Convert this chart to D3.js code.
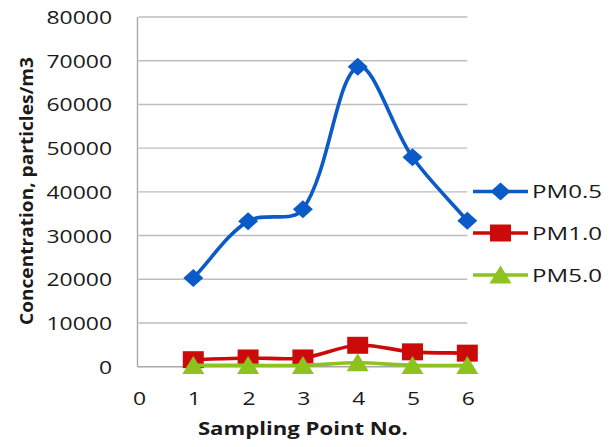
<!DOCTYPE html>
<html>
<head>
<meta charset="utf-8">
<script src="https://cdn.jsdelivr.net/npm/d3@7"></script>
<style>
  html, body { margin: 0; padding: 0; background: #fff; }
  svg { display: block; }
</style>
</head>
<body>
<svg id="chart" width="615" height="447"></svg>
<script>
const samplingPoints = [1, 2, 3, 4, 5, 6];
const pm05 = [20300, 33300, 36000, 68600, 47900, 33400];
const pm10 = [1600, 2000, 2000, 4900, 3400, 3100];
const pm50 = [300, 300, 300, 900, 300, 300];
const yTicks = [0, 10000, 20000, 30000, 40000, 50000, 60000, 70000, 80000];
const xTicks = [0, 1, 2, 3, 4, 5, 6];
const seriesNames = ["PM0.5", "PM1.0", "PM5.0"];
const yTitle = "Concentration, particles/m3";
const xTitle = "Sampling Point No.";

const colors = ["#0A5AC8", "#CC0A0A", "#8DC21F"];
const shapes = ["diamond", "square", "triangle"];
const seriesData = [pm05, pm10, pm50];

const svg = d3.select("#chart");
const x = d3.scaleLinear().domain([0, 6]).range([138.5, 467.3]);
const y = d3.scaleLinear().domain([0, 80000]).range([366.7, 17]);

const font = "'Open Sans', 'DejaVu Sans', sans-serif";
const digitW = 13.1;

// Spreadsheet-style smoothing curve (Bezier, tangents scaled by segment length)
function SmoothCurve(context) { this._context = context; }
SmoothCurve.prototype = {
  areaStart() {}, areaEnd() {},
  lineStart() { this._pts = []; },
  point(px, py) { this._pts.push([+px, +py]); },
  lineEnd() {
    const p = this._pts, c = this._context, n = p.length;
    if (!n) return;
    c.moveTo(p[0][0], p[0][1]);
    const dist = (a, b) => Math.hypot(b[0] - a[0], b[1] - a[1]);
    for (let i = 0; i < n - 1; i++) {
      const p0 = p[Math.max(i - 1, 0)], p1 = p[i], p2 = p[i + 1], p3 = p[Math.min(i + 2, n - 1)];
      const d01 = dist(p0, p1), d12 = dist(p1, p2), d23 = dist(p2, p3);
      const s = 1 / 3;
      const f1 = (d01 + d12) > 0 ? d12 / (d01 + d12) * s : 0;
      const f2 = (d12 + d23) > 0 ? d12 / (d12 + d23) * s : 0;
      const c1 = [p1[0] + (p2[0] - p0[0]) * f1, p1[1] + (p2[1] - p0[1]) * f1];
      const c2 = [p2[0] - (p3[0] - p1[0]) * f2, p2[1] - (p3[1] - p1[1]) * f2];
      c.bezierCurveTo(c1[0], c1[1], c2[0], c2[1], p2[0], p2[1]);
    }
  }
};
const curveSmooth = ctx => new SmoothCurve(ctx);

// gridlines
svg.append("g").selectAll("line")
  .data(yTicks.filter(d => d > 0))
  .join("line")
  .attr("x1", x(0)).attr("x2", x(6))
  .attr("y1", d => y(d)).attr("y2", d => y(d))
  .attr("stroke", "#BDBDBD").attr("stroke-width", 1.4);

// axes lines
svg.append("line").attr("x1", x(0) - 1).attr("x2", x(0) - 1)
  .attr("y1", y(80000)).attr("y2", y(0))
  .attr("stroke", "#A8A8A8").attr("stroke-width", 1.4);
svg.append("line").attr("x1", x(0) - 1).attr("x2", x(6))
  .attr("y1", y(0)).attr("y2", y(0))
  .attr("stroke", "#A8A8A8").attr("stroke-width", 1.4);

// y tick labels
svg.append("g").selectAll("text")
  .data(yTicks)
  .join("text")
  .attr("x", 112).attr("y", d => y(d) + 7)
  .attr("text-anchor", "end")
  .attr("font-family", font).attr("font-size", 19)
  .attr("fill", "#1a1a1a")
  .attr("textLength", d => String(d).length * digitW)
  .attr("lengthAdjust", "spacingAndGlyphs")
  .text(d => d);

// x tick labels
svg.append("g").selectAll("text")
  .data(xTicks)
  .join("text")
  .attr("x", d => x(d) + 1).attr("y", 405)
  .attr("text-anchor", "middle")
  .attr("font-family", font).attr("font-size", 19)
  .attr("fill", "#1a1a1a")
  .attr("textLength", digitW)
  .attr("lengthAdjust", "spacingAndGlyphs")
  .text(d => d);

// axis titles
svg.append("text")
  .attr("x", (x(0) + x(6)) / 2).attr("y", 435)
  .attr("text-anchor", "middle")
  .attr("font-family", font).attr("font-size", 17.5).attr("font-weight", "bold")
  .attr("fill", "#1a1a1a")
  .attr("textLength", 210).attr("lengthAdjust", "spacingAndGlyphs")
  .text(xTitle);

svg.append("text")
  .attr("transform", "translate(33,191) rotate(-90)")
  .attr("text-anchor", "middle")
  .attr("font-family", font).attr("font-size", 17.5).attr("font-weight", "bold")
  .attr("fill", "#1a1a1a")
  .attr("textLength", 268).attr("lengthAdjust", "spacingAndGlyphs")
  .text(yTitle);

function markerPath(shape) {
  if (shape === "diamond") return "M0,-9 L10,0 L0,9 L-10,0 Z";
  if (shape === "square") return "M-10.5,-8.5 L10.5,-8.5 L10.5,8.5 L-10.5,8.5 Z";
  return "M0,-9.5 L11,8.5 L-11,8.5 Z";
}

const line = d3.line()
  .x((d, i) => x(samplingPoints[i]))
  .y(d => y(d))
  .curve(curveSmooth);

seriesData.forEach((vals, si) => {
  const g = svg.append("g");
  g.append("path")
    .attr("d", line(vals))
    .attr("fill", "none")
    .attr("stroke", colors[si])
    .attr("stroke-width", 3.6)
    .attr("stroke-linejoin", "round");
  g.selectAll("path.m")
    .data(vals)
    .join("path")
    .attr("class", "m")
    .attr("transform", (d, i) => `translate(${x(samplingPoints[i])},${y(d)})`)
    .attr("d", markerPath(shapes[si]))
    .attr("fill", colors[si]);
});

// legend
const legendY = [191.5, 233, 275];
seriesNames.forEach((name, si) => {
  const g = svg.append("g").attr("transform", `translate(0,${legendY[si]})`);
  g.append("line").attr("x1", 473).attr("x2", 528).attr("y1", 0).attr("y2", 0)
    .attr("stroke", colors[si]).attr("stroke-width", 3.6);
  g.append("path").attr("transform", "translate(500.5,0)")
    .attr("d", markerPath(shapes[si])).attr("fill", colors[si]);
  g.append("text").attr("x", 532).attr("y", 6.5)
    .attr("font-family", font).attr("font-size", 18)
    .attr("fill", "#1a1a1a")
    .attr("textLength", 70).attr("lengthAdjust", "spacingAndGlyphs")
    .text(name);
});
</script>
</body>
</html>
